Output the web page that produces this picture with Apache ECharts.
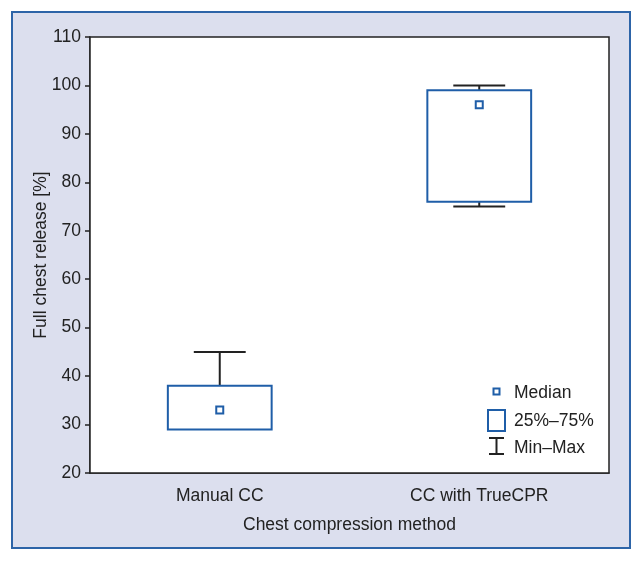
<!DOCTYPE html>
<html>
<head>
<meta charset="utf-8">
<script src="https://cdn.jsdelivr.net/npm/echarts@6/dist/echarts.min.js"></script>
<style>
  html, body { margin: 0; padding: 0; background: #fff; }
  #chart { width: 643px; height: 562px; }
</style>
</head>
<body>
<div id="chart"></div>
<script>
const categories = ['Manual CC', 'CC with TrueCPR']
const minVals = [29, 75]
const q1Vals = [29, 76]
const medianVals = [33, 96]
const q3Vals = [38, 99]
const maxVals = [45, 100]
const yTicks = [20, 30, 40, 50, 60, 70, 80, 90, 100, 110]

const font = '"Liberation Sans Narrow", "Arial Narrow", "Liberation Sans", sans-serif'
const fs = 17.5
const boxBlue = '#1f5ea8'

const chart = echarts.init(document.getElementById('chart'))

const renderBox = (params, api) => {
  const i = api.value(0)
  const lo = api.coord([i, api.value(1)])
  const q1 = api.coord([i, api.value(2)])
  const med = api.coord([i, api.value(3)])
  const q3 = api.coord([i, api.value(4)])
  const hi = api.coord([i, api.value(5)])
  const bandW = api.size([1, 0])[0]
  const boxW = bandW * 0.4
  const capW = bandW * 0.2
  const x = q1[0]
  const children = []
  // upper whisker
  if (api.value(5) > api.value(4)) {
    children.push({ type: 'line', shape: { x1: x, y1: q3[1], x2: x, y2: hi[1] }, style: { stroke: '#222', lineWidth: 2 } })
    children.push({ type: 'line', shape: { x1: x - capW / 2, y1: hi[1], x2: x + capW / 2, y2: hi[1] }, style: { stroke: '#222', lineWidth: 2 } })
  }
  // lower whisker
  if (api.value(1) < api.value(2)) {
    children.push({ type: 'line', shape: { x1: x, y1: q1[1], x2: x, y2: lo[1] }, style: { stroke: '#222', lineWidth: 2 } })
    children.push({ type: 'line', shape: { x1: x - capW / 2, y1: lo[1], x2: x + capW / 2, y2: lo[1] }, style: { stroke: '#222', lineWidth: 2 } })
  }
  children.push({
    type: 'rect',
    shape: { x: x - boxW / 2, y: q3[1], width: boxW, height: q1[1] - q3[1] },
    style: { fill: '#fff', stroke: boxBlue, lineWidth: 2 }
  })
  children.push({
    type: 'rect',
    shape: { x: med[0] - 3.5, y: med[1] - 3.5, width: 7, height: 7 },
    style: { fill: '#fff', stroke: boxBlue, lineWidth: 2 }
  })
  return { type: 'group', children }
}

const seriesData = categories.map((c, i) => [i, minVals[i], q1Vals[i], medianVals[i], q3Vals[i], maxVals[i]])

chart.setOption({
  backgroundColor: '#fff',
  animation: false,
  textStyle: { fontFamily: font },
  grid: {
    left: 90, top: 37, right: 34, bottom: 89,
    show: true, backgroundColor: '#fff', borderColor: '#222', borderWidth: 1.5, z: 1
  },
  graphic: [
    {
      type: 'rect', z: -10, silent: true,
      shape: { x: 12, y: 12, width: 618, height: 536 },
      style: { fill: '#dcdfee', stroke: '#2d64a8', lineWidth: 2 }
    },
    // legend
    { type: 'rect', z: 100, shape: { x: 493.5, y: 388.5, width: 6, height: 6 }, style: { fill: '#fff', stroke: boxBlue, lineWidth: 2 } },
    { type: 'text', z: 100, x: 514, y: 393, style: { text: 'Median', font: fs + 'px ' + font, fill: '#222', verticalAlign: 'middle' } },
    { type: 'rect', z: 100, shape: { x: 488, y: 410, width: 17, height: 21 }, style: { fill: '#fff', stroke: boxBlue, lineWidth: 2 } },
    { type: 'text', z: 100, x: 514, y: 421, style: { text: '25%–75%', font: fs + 'px ' + font, fill: '#222', verticalAlign: 'middle' } },
    { type: 'line', z: 100, shape: { x1: 489, y1: 438, x2: 504, y2: 438 }, style: { stroke: '#222', lineWidth: 2 } },
    { type: 'line', z: 100, shape: { x1: 496.5, y1: 438, x2: 496.5, y2: 454 }, style: { stroke: '#222', lineWidth: 2 } },
    { type: 'line', z: 100, shape: { x1: 489, y1: 454, x2: 504, y2: 454 }, style: { stroke: '#222', lineWidth: 2 } },
    { type: 'text', z: 100, x: 514, y: 448, style: { text: 'Min–Max', font: fs + 'px ' + font, fill: '#222', verticalAlign: 'middle' } }
  ],
  xAxis: {
    type: 'category',
    data: categories,
    name: 'Chest compression method',
    nameLocation: 'middle',
    nameGap: 43,
    nameMoveOverlap: false,
    nameTextStyle: { fontSize: fs, color: '#222', fontFamily: font },
    axisLine: { lineStyle: { color: '#222', width: 1.5 } },
    axisTick: { alignWithLabel: true, length: 6, lineStyle: { color: '#222', width: 1.5 } },
    axisLabel: { fontSize: fs, color: '#222', margin: 14, fontFamily: font },
    splitLine: { show: false }
  },
  yAxis: {
    type: 'value',
    min: yTicks[0],
    max: yTicks[yTicks.length - 1],
    interval: 10,
    name: 'Full chest release [%]',
    nameLocation: 'middle',
    nameGap: 40,
    nameMoveOverlap: false,
    nameRotate: 90,
    nameTextStyle: { fontSize: fs, color: '#222', fontFamily: font },
    axisLine: { show: true, lineStyle: { color: '#222', width: 1.5 } },
    axisTick: { show: true, length: 5, lineStyle: { color: '#222', width: 1.5 } },
    axisLabel: { fontSize: fs, color: '#222', margin: 9, fontFamily: font },
    splitLine: { show: false }
  },
  series: [{
    type: 'custom',
    renderItem: renderBox,
    encode: { x: 0, y: [1, 2, 3, 4, 5] },
    data: seriesData,
    z: 10
  }]
})
</script>
</body>
</html>
